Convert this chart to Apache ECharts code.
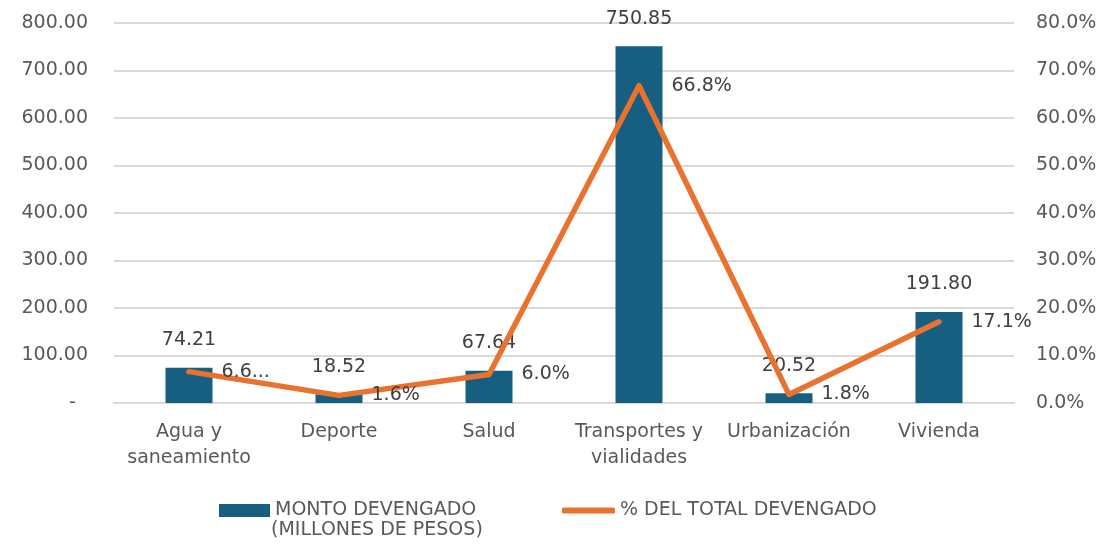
<!DOCTYPE html>
<html>
<head>
<meta charset="utf-8">
<script src="https://cdn.jsdelivr.net/npm/echarts@6/dist/echarts.min.js"></script>
<style>
  html, body { margin: 0; padding: 0; background: #fff; }
  #chart { width: 1107px; height: 544px; }
</style>
</head>
<body>
<div id="chart"></div>
<script>
// datos
const categorias = ['Agua y\nsaneamiento', 'Deporte', 'Salud', 'Transportes y\nvialidades', 'Urbanización', 'Vivienda']
const montoDevengado = [74.21, 18.52, 67.64, 750.85, 20.52, 191.80]
const pctTotal = [6.6, 1.6, 6.0, 66.8, 1.8, 17.1]
const pctEtiquetas = ['6.6...', '1.6%', '6.0%', '66.8%', '1.8%', '17.1%']

const FONT = 'DejaVu Sans'
const AZUL = '#175f81'
const NARANJA = '#e9722f'
const GRIS = '#595959'

const chart = echarts.init(document.getElementById('chart'))

chart.setOption({
  animation: false,
  textStyle: { fontFamily: FONT },
  grid: {
    left: 114,
    right: 93,
    top: 23,
    bottom: 141
  },
  legend: [{
    data: ['MONTO DEVENGADO'],
    left: 214,
    top: 496,
    icon: 'rect',
    itemWidth: 51,
    itemHeight: 13,
    itemGap: 6,
    textStyle: { color: GRIS, fontSize: 19, fontFamily: FONT }
  }, {
    data: ['% DEL TOTAL DEVENGADO'],
    left: 557,
    top: 496,
    icon: 'roundRect',
    itemWidth: 53,
    itemHeight: 6,
    textStyle: { color: GRIS, fontSize: 19, fontFamily: FONT }
  }],
  // segunda linea del texto de la leyenda de barras
  graphic: [{
    type: 'text',
    left: 271,
    top: 521,
    style: { text: '(MILLONES DE PESOS)', fill: GRIS, font: '19px "DejaVu Sans"' }
  }],
  xAxis: {
    type: 'category',
    data: categorias,
    axisTick: { show: false },
    axisLine: { lineStyle: { color: '#d9d9d9', width: 2 } },
    axisLabel: {
      color: GRIS,
      fontSize: 19,
      lineHeight: 26,
      margin: 16,
      interval: 0
    }
  },
  yAxis: [{
    type: 'value',
    min: 0,
    max: 800,
    interval: 100,
    axisLine: { show: false },
    axisTick: { show: false },
    splitLine: { lineStyle: { color: '#d9d9d9', width: 2 } },
    axisLabel: {
      color: GRIS,
      fontSize: 19,
      margin: 26,
      formatter: v => v === 0 ? '-  ' : v.toFixed(2)
    }
  }, {
    type: 'value',
    min: 0,
    max: 80,
    interval: 10,
    axisLine: { show: false },
    axisTick: { show: false },
    splitLine: { show: false },
    axisLabel: {
      color: GRIS,
      fontSize: 19,
      margin: 22,
      formatter: v => v.toFixed(1) + '%'
    }
  }],
  series: [{
    name: 'MONTO DEVENGADO',
    type: 'bar',
    data: montoDevengado,
    barWidth: 47,
    itemStyle: { color: AZUL },
    label: {
      show: true,
      position: 'top',
      distance: 18,
      color: '#404040',
      fontSize: 19,
      formatter: p => p.value.toFixed(2)
    }
  }, {
    name: '% DEL TOTAL DEVENGADO',
    type: 'line',
    yAxisIndex: 1,
    data: pctTotal,
    symbol: 'circle',
    symbolSize: 1,
    showSymbol: true,
    lineStyle: { color: NARANJA, width: 5.5, cap: 'round', join: 'round' },
    itemStyle: { color: NARANJA },
    label: {
      show: true,
      position: 'right',
      distance: 32,
      color: '#404040',
      fontSize: 19,
      formatter: p => pctEtiquetas[p.dataIndex]
    }
  }]
})
</script>
</body>
</html>
